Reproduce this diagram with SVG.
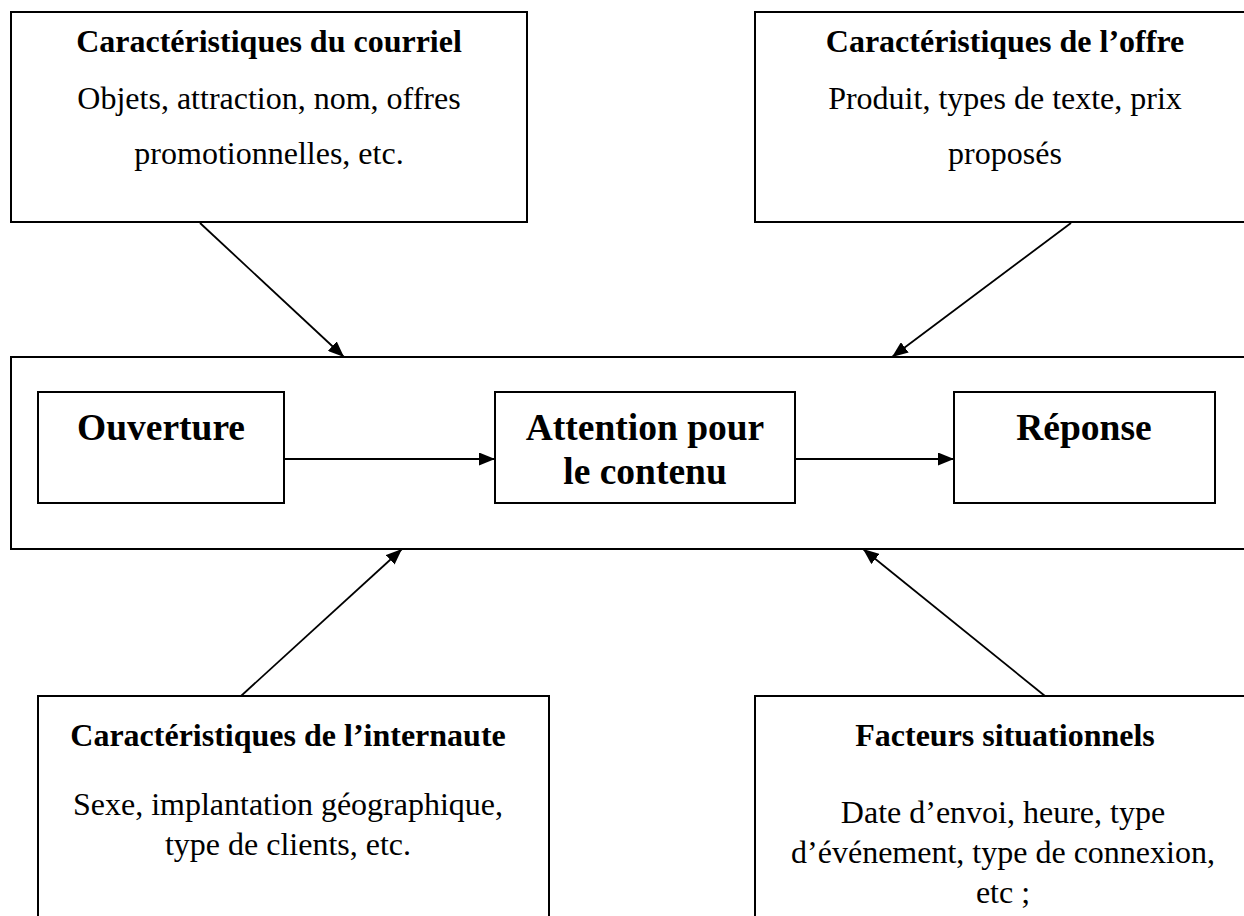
<svg xmlns="http://www.w3.org/2000/svg" width="1244" height="916" viewBox="0 0 1244 916">
  <style>
    .box { fill: #ffffff; stroke: #000000; stroke-width: 2; }
    .link { stroke: #000000; stroke-width: 1.8; fill: none; marker-end: url(#arrow); }
    .title { font-family: "Liberation Serif", "Times New Roman", serif; font-weight: bold; font-size: 32px; text-anchor: middle; fill: #000; }
    .body { font-family: "Liberation Serif", "Times New Roman", serif; font-size: 32px; text-anchor: middle; fill: #000; }
    .stage { font-family: "Liberation Serif", "Times New Roman", serif; font-weight: bold; font-size: 37.5px; text-anchor: middle; fill: #000; }
  </style>
  <defs>
    <marker id="arrow" markerUnits="userSpaceOnUse" markerWidth="17" markerHeight="13" refX="16" refY="6.5" orient="auto">
      <path d="M0,0 L16,6.5 L0,13 z" fill="#000"/>
    </marker>
  </defs>
  <rect width="1244" height="916" fill="#ffffff"/>

  <!-- central process frame -->
  <g id="process">
    <rect class="box" x="11" y="357" width="1250" height="192"/>
  </g>

  <g id="courriel">
    <rect class="box" x="11" y="12" width="516" height="210"/>
    <text class="title" x="269" y="52">Caractéristiques du courriel</text>
    <text class="body" x="269" y="109">Objets, attraction, nom, offres</text>
    <text class="body" x="269" y="164">promotionnelles, etc.</text>
  </g>

  <g id="offre">
    <rect class="box" x="755" y="12" width="506" height="210"/>
    <text class="title" x="1005" y="52">Caractéristiques de l’offre</text>
    <text class="body" x="1005" y="109">Produit, types de texte, prix</text>
    <text class="body" x="1005" y="164">proposés</text>
  </g>

  <g id="ouverture">
    <rect class="box" x="38" y="392" width="246" height="111"/>
    <text class="stage" x="161" y="440">Ouverture</text>
  </g>

  <g id="attention">
    <rect class="box" x="495" y="392" width="300" height="111"/>
    <text class="stage" x="645" y="440">Attention pour</text>
    <text class="stage" x="645" y="484">le contenu</text>
  </g>

  <g id="reponse">
    <rect class="box" x="954" y="392" width="261" height="111"/>
    <text class="stage" x="1084" y="440">Réponse</text>
  </g>

  <g id="internaute">
    <rect class="box" x="38" y="696" width="511" height="240"/>
    <text class="title" x="288" y="746">Caractéristiques de l’internaute</text>
    <text class="body" x="288" y="815">Sexe, implantation géographique,</text>
    <text class="body" x="288" y="855">type de clients, etc.</text>
  </g>

  <g id="situationnels">
    <rect class="box" x="755" y="696" width="506" height="240"/>
    <text class="title" x="1005" y="746">Facteurs situationnels</text>
    <text class="body" x="1003" y="823">Date d’envoi, heure, type</text>
    <text class="body" x="1003" y="863">d’événement, type de connexion,</text>
    <text class="body" x="1003" y="903">etc ;</text>
  </g>

  <g id="connectors">
    <line class="link" x1="200" y1="223" x2="344" y2="357"/>
    <line class="link" x1="1071" y1="223" x2="892" y2="357"/>
    <line class="link" x1="241" y1="696" x2="402" y2="549"/>
    <line class="link" x1="1045" y1="696" x2="863" y2="549"/>
    <line class="link" x1="284" y1="459" x2="495" y2="459"/>
    <line class="link" x1="795" y1="459" x2="954" y2="459"/>
  </g>
</svg>
